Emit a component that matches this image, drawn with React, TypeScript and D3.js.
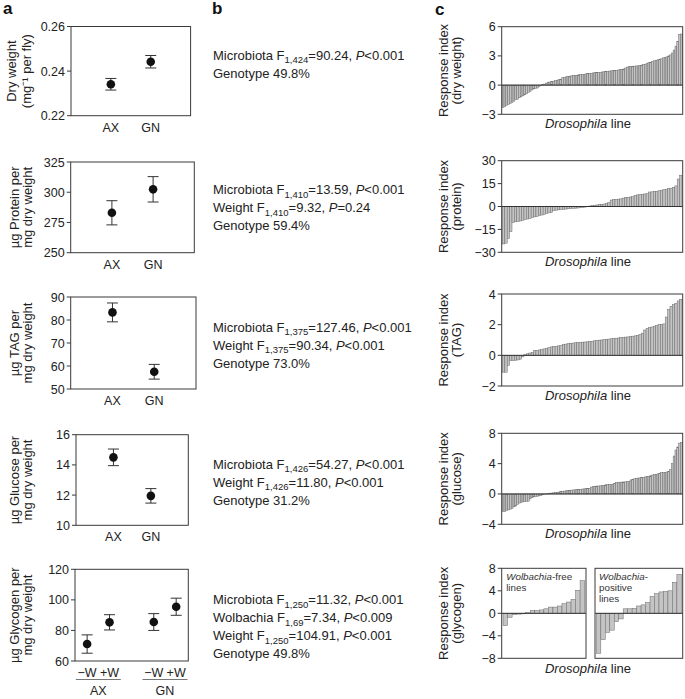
import React from "react";
import * as d3 from "d3";

const FONT = "'Liberation Sans', Arial, Helvetica, sans-serif";

// ---------- column a data ----------
const GENOTYPES = ["AX", "GN"];
const DRY_WEIGHT_MEAN = [0.2341, 0.2442];
const DRY_WEIGHT_SE = [0.0026, 0.0028];
const DRY_WEIGHT_TICKS = [0.22, 0.24, 0.26];
const PROTEIN_MEAN = [283, 302.4];
const PROTEIN_SE = [10, 10.5];
const PROTEIN_TICKS = [250, 275, 300, 325];
const TAG_MEAN = [83.3, 57.5];
const TAG_SE = [4.1, 3.2];
const TAG_TICKS = [50, 60, 70, 80, 90];
const GLUCOSE_MEAN = [14.5, 11.95];
const GLUCOSE_SE = [0.55, 0.48];
const GLUCOSE_TICKS = [10, 12, 14, 16];
const WOLBACHIA = ["−W", "+W"];
const GLYCOGEN_AX_MEAN = [71.1, 85.3];
const GLYCOGEN_AX_SE = [6, 5];
const GLYCOGEN_GN_MEAN = [85.5, 95.5];
const GLYCOGEN_GN_SE = [5.5, 5.6];
const GLYCOGEN_TICKS = [60, 80, 100, 120];

// ---------- column b text ----------
type StatLine = { name: string; df?: string; stat?: string; p?: string };
const STATS_DRY: StatLine[] = [
  { name: "Microbiota", df: "1,424", stat: "=90.24, ", p: "<0.001" },
  { name: "Genotype 49.8%" },
];
const STATS_PROTEIN: StatLine[] = [
  { name: "Microbiota", df: "1,410", stat: "=13.59, ", p: "<0.001" },
  { name: "Weight", df: "1,410", stat: "=9.32, ", p: "=0.24" },
  { name: "Genotype 59.4%" },
];
const STATS_TAG: StatLine[] = [
  { name: "Microbiota", df: "1,375", stat: "=127.46, ", p: "<0.001" },
  { name: "Weight", df: "1,375", stat: "=90.34, ", p: "<0.001" },
  { name: "Genotype 73.0%" },
];
const STATS_GLUCOSE: StatLine[] = [
  { name: "Microbiota", df: "1,426", stat: "=54.27, ", p: "<0.001" },
  { name: "Weight", df: "1,426", stat: "=11.80, ", p: "<0.001" },
  { name: "Genotype 31.2%" },
];
const STATS_GLYCOGEN: StatLine[] = [
  { name: "Microbiota", df: "1,250", stat: "=11.32, ", p: "<0.001" },
  { name: "Wolbachia", df: "1,69", stat: "=7.34, ", p: "<0.009" },
  { name: "Weight", df: "1,250", stat: "=104.91, ", p: "<0.001" },
  { name: "Genotype 49.8%" },
];

// ---------- column c data (response index per Drosophila line) ----------
const RI_DRY_WEIGHT = [
  -2.3, -2.2, -2.1, -2.0, -1.9, -1.8, -1.65, -1.5, -1.45, -1.3,
  -1.2, -1.1, -1.0, -0.9, -0.75, -0.65, -0.5, -0.4, -0.35, -0.3,
  -0.15, -0.05, 0.05, 0.1, 0.2, 0.3, 0.32, 0.35, 0.4, 0.45,
  0.5, 0.55, 0.6, 0.75, 0.8, 0.85, 0.88, 0.9, 0.95, 0.98,
  1.0, 1.02, 1.05, 1.08, 1.1, 1.12, 1.15, 1.18, 1.2, 1.22,
  1.25, 1.27, 1.28, 1.3, 1.32, 1.35, 1.37, 1.4, 1.42, 1.44,
  1.46, 1.48, 1.5, 1.52, 1.55, 1.58, 1.6, 1.65, 1.75, 1.85,
  1.9, 1.92, 1.93, 1.95, 1.97, 1.98, 2.0, 2.05, 2.1, 2.15,
  2.2, 2.3, 2.35, 2.4, 2.5, 2.55, 2.6, 2.65, 2.7, 2.8,
  2.85, 2.9, 3.0, 3.1, 3.3, 3.6, 4.0, 4.5, 5.2, 5.25,
];
const RI_PROTEIN = [
  -24.5, -24, -21, -16.5, -10.5, -10, -9.8, -9.5, -9, -8.5,
  -8.2, -7.8, -7.2, -6.8, -6.5, -6, -5.6, -5.2, -4.5, -4.2,
  -3.8, -2.6, -2.4, -2.2, -2.0, -1.9, -1.7, -1.5, -1.3, -1.2,
  -1.1, -1.0, -0.8, -0.6, -0.4, -0.1, 0.3, 0.6, 0.8, 1.0,
  1.2, 1.4, 1.6, 2.0, 2.6, 4.2, 4.5, 4.6, 4.8, 5.0,
  5.5, 5.8, 6.0, 6.2, 6.4, 7.3, 7.6, 7.8, 8.0, 8.2,
  8.5, 9.5, 9.6, 9.8, 10.0, 10.3, 10.6, 11.0, 11.2, 11.8,
  12.0, 12.5, 13.5, 18, 20.5,
];
const RI_TAG = [
  -1.1, -1.1, -0.65, -0.35, -0.35, -0.32, -0.3, -0.25, -0.1, 0.05,
  0.1, 0.15, 0.2, 0.3, 0.32, 0.35, 0.38, 0.42, 0.45, 0.5,
  0.55, 0.57, 0.58, 0.62, 0.65, 0.7, 0.73, 0.76, 0.78, 0.8,
  0.82, 0.83, 0.85, 0.86, 0.87, 0.88, 0.9, 0.92, 0.95, 0.97,
  0.99, 1.0, 1.02, 1.04, 1.06, 1.08, 1.1, 1.12, 1.13, 1.15,
  1.17, 1.19, 1.2, 1.22, 1.25, 1.27, 1.3, 1.35, 1.45, 1.65,
  1.75, 1.8, 1.85, 1.9, 1.95, 2.0, 2.02, 2.05, 2.5, 3.0,
  3.2, 3.3, 3.4, 3.55, 3.65,
];
const RI_GLUCOSE = [
  -2.3, -2.3, -2.2, -2.1, -2.0, -1.9, -1.7, -1.6, -1.4, -1.2,
  -1.1, -1.05, -1.0, -1.0, -0.95, -0.65, -0.5, -0.4, -0.35, -0.3,
  -0.25, -0.2, -0.12, -0.08, -0.03, 0.05, 0.1, 0.12, 0.15, 0.18,
  0.2, 0.25, 0.3, 0.35, 0.38, 0.42, 0.45, 0.46, 0.5, 0.53,
  0.55, 0.57, 0.6, 0.62, 0.65, 0.67, 0.7, 0.72, 0.75, 0.9,
  1.0, 1.02, 1.04, 1.05, 1.07, 1.1, 1.15, 1.2, 1.22, 1.25,
  1.28, 1.3, 1.4, 1.5, 1.52, 1.55, 1.57, 1.58, 1.6, 1.62,
  1.65, 1.85, 1.9, 2.0, 2.05, 2.1, 2.12, 2.15, 2.2, 2.25,
  2.3, 2.35, 2.4, 2.5, 2.55, 2.6, 2.65, 2.7, 2.8, 2.82,
  2.85, 2.9, 3.0, 3.2, 4.0, 5.0, 5.8, 6.2, 6.7, 6.8,
];
const RI_GLYCOGEN_WFREE = [
  -2.2, -0.7, -0.25, -0.15, -0.1, 0.1, 0.5, 0.5, 0.6, 0.8,
  1.1, 1.1, 1.3, 1.7, 2.0, 2.5, 4.1, 5.8,
];
const RI_GLYCOGEN_WPOS = [
  -7.1, -4.7, -3.4, -3.0, -1.5, -1.0, 0.8, 0.8, 0.9, 1.3,
  1.5, 1.9, 3.0, 3.5, 3.8, 3.9, 4.0, 5.5, 6.9,
];

// ---------- layout ----------
type Box = { x0: number; x1: number; y0: number; y1: number };
const AXIS_COLOR = "#3a3a3a";
const TEXT_COLOR = "#222";

function YAxis({ box, y, ticks, fmt }: any) {
  return (
    <g>
      {ticks.map((t: number) => (
        <g key={t}>
          <line x1={box.x0 - 4} x2={box.x0} y1={y(t)} y2={y(t)} stroke={AXIS_COLOR} strokeWidth={1} />
          <text x={box.x0 - 6} y={y(t)} dy="0.36em" textAnchor="end" fontSize={12.5} fill={TEXT_COLOR}>
            {fmt(t)}
          </text>
        </g>
      ))}
    </g>
  );
}

function YTitle({ lines, xs, cy }: { lines: string[]; xs: number[]; cy: number }) {
  return (
    <g>
      {lines.map((l, i) => (
        <text
          key={i}
          transform={`translate(${xs[i]},${cy}) rotate(-90)`}
          textAnchor="middle"
          dominantBaseline="central"
          fontSize={13}
          fill={TEXT_COLOR}
        >
          {l}
        </text>
      ))}
    </g>
  );
}

function Frame({ box }: { box: Box }) {
  return (
    <rect x={box.x0} y={box.y0} width={box.x1 - box.x0} height={box.y1 - box.y0} fill="none" stroke={AXIS_COLOR} strokeWidth={1} />
  );
}

function PointMark({ cx, y, mean, se }: any) {
  const cap = 5.5;
  return (
    <g>
      <line x1={cx} x2={cx} y1={y(mean - se)} y2={y(mean + se)} stroke="#333" strokeWidth={1} />
      <line x1={cx - cap} x2={cx + cap} y1={y(mean - se)} y2={y(mean - se)} stroke="#333" strokeWidth={1} />
      <line x1={cx - cap} x2={cx + cap} y1={y(mean + se)} y2={y(mean + se)} stroke="#333" strokeWidth={1} />
      <circle cx={cx} cy={y(mean)} r={4.3} fill="#111" />
    </g>
  );
}

function PointPanel({ box, ticks, fmt, means, ses, title, titleX }: any) {
  const y = d3.scaleLinear().domain([ticks[0], ticks[ticks.length - 1]]).range([box.y1, box.y0]);
  const x = d3.scalePoint<string>().domain(GENOTYPES).range([box.x0, box.x1]).padding(1);
  return (
    <g>
      <Frame box={box} />
      <YAxis box={box} y={y} ticks={ticks} fmt={fmt} />
      {GENOTYPES.map((g, i) => (
        <g key={g}>
          <PointMark cx={x(g)} y={y} mean={means[i]} se={ses[i]} />
          <text x={x(g)} y={box.y1 + 16} textAnchor="middle" fontSize={12.5} fill={TEXT_COLOR}>{g}</text>
        </g>
      ))}
      <YTitle lines={title} xs={titleX} cy={(box.y0 + box.y1) / 2} />
    </g>
  );
}

function GlycogenPointPanel({ box }: { box: Box }) {
  const y = d3.scaleLinear().domain([GLYCOGEN_TICKS[0], GLYCOGEN_TICKS[GLYCOGEN_TICKS.length - 1]]).range([box.y1, box.y0]);
  const gx = d3.scalePoint<string>().domain(GENOTYPES).range([box.x0, box.x1]).padding(0.35);
  const wx = d3.scalePoint<string>().domain(WOLBACHIA).range([-11.2, 11.2]);
  const means = [GLYCOGEN_AX_MEAN, GLYCOGEN_GN_MEAN];
  const ses = [GLYCOGEN_AX_SE, GLYCOGEN_GN_SE];
  return (
    <g>
      <Frame box={box} />
      <YAxis box={box} y={y} ticks={GLYCOGEN_TICKS} fmt={d3.format("d")} />
      {GENOTYPES.map((g, gi) => {
        const c = gx(g) as number;
        return (
          <g key={g}>
            {WOLBACHIA.map((w, wi) => (
              <g key={w}>
                <PointMark cx={c + (wx(w) as number)} y={y} mean={means[gi][wi]} se={ses[gi][wi]} />
                <text x={c + (wx(w) as number)} y={box.y1 + 15.5} textAnchor="middle" fontSize={12.5} fill={TEXT_COLOR}>{w}</text>
              </g>
            ))}
            <line x1={c - 22.5} x2={c + 22.5} y1={box.y1 + 18.5} y2={box.y1 + 18.5} stroke="#777" strokeWidth={1.2} />
            <text x={c} y={box.y1 + 34} textAnchor="middle" fontSize={12.5} fill={TEXT_COLOR}>{g}</text>
          </g>
        );
      })}
      <YTitle lines={["µg Glycogen per", "mg dry weight"]} xs={[14, 27.5]} cy={(box.y0 + box.y1) / 2} />
    </g>
  );
}

function StatsBlock({ lines, x, y0 }: { lines: StatLine[]; x: number; y0: number }) {
  return (
    <g>
      {lines.map((l, i) => (
        <text key={i} x={x} y={y0 + i * 18} fontSize={13} fill={TEXT_COLOR}>
          {l.name}
          {l.df ? (
            <>
              {" F"}
              <tspan dy={3.5} fontSize={9.5}>{l.df}</tspan>
              <tspan dy={-3.5}>{l.stat}</tspan>
              <tspan fontStyle="italic">P</tspan>
              <tspan>{l.p}</tspan>
            </>
          ) : null}
        </text>
      ))}
    </g>
  );
}

function Bars({ box, y, values }: { box: Box; y: any; values: number[] }) {
  const x = d3.scaleBand<number>().domain(d3.range(values.length)).range([box.x0, box.x1]).paddingInner(0).paddingOuter(0.3);
  return (
    <g>
      {values.map((v, i) => (
        <rect
          key={i}
          x={x(i)}
          width={x.bandwidth()}
          y={Math.min(y(v), y(0))}
          height={Math.abs(y(v) - y(0))}
          fill="#c4c4c4"
          stroke="#6a6a6a"
          strokeWidth={0.5}
        />
      ))}
      <line x1={box.x0} x2={box.x1} y1={y(0)} y2={y(0)} stroke="#333" strokeWidth={1} />
    </g>
  );
}

function BarPanel({ box, ticks, values, title }: any) {
  const y = d3.scaleLinear().domain([ticks[ticks.length - 1], ticks[0]]).range([box.y1, box.y0]);
  return (
    <g>
      <Bars box={box} y={y} values={values} />
      <Frame box={box} />
      <YAxis box={box} y={y} ticks={ticks} fmt={d3.format("d")} />
      <YTitle lines={title} xs={[443, 456]} cy={(box.y0 + box.y1) / 2} />
      <text x={588} y={box.y1 + 14} textAnchor="middle" fontSize={13} fill={TEXT_COLOR}>
        <tspan fontStyle="italic">Drosophila</tspan> line
      </text>
    </g>
  );
}

function GlycogenBarPanel({ left, right }: { left: Box; right: Box }) {
  const ticks = [8, 4, 0, -4, -8];
  const y = d3.scaleLinear().domain([-8, 8]).range([left.y1, left.y0]);
  return (
    <g>
      <Bars box={left} y={y} values={RI_GLYCOGEN_WFREE} />
      <Bars box={right} y={y} values={RI_GLYCOGEN_WPOS} />
      <Frame box={left} />
      <Frame box={right} />
      <YAxis box={left} y={y} ticks={ticks} fmt={d3.format("d")} />
      <text x={left.x0 + 4.5} y={left.y0 + 12} fontSize={9.8} fill="#333">
        <tspan fontStyle="italic">Wolbachia</tspan>-free
      </text>
      <text x={left.x0 + 4.5} y={left.y0 + 23} fontSize={9.8} fill="#333">lines</text>
      <text x={right.x0 + 4} y={right.y0 + 12} fontSize={9.8} fill="#333">
        <tspan fontStyle="italic">Wolbachia</tspan>-
      </text>
      <text x={right.x0 + 4} y={right.y0 + 23} fontSize={9.8} fill="#333">positive</text>
      <text x={right.x0 + 4} y={right.y0 + 34} fontSize={9.8} fill="#333">lines</text>
      <YTitle lines={["Response index", "(glycogen)"]} xs={[443, 456]} cy={(left.y0 + left.y1) / 2} />
      <text x={588} y={left.y1 + 15} textAnchor="middle" fontSize={13} fill={TEXT_COLOR}>
        <tspan fontStyle="italic">Drosophila</tspan> line
      </text>
    </g>
  );
}

export default function App() {
  const f2 = d3.format(".2f");
  const fi = d3.format("d");
  return (
    <svg
      width={685}
      height={699}
      style={{ position: "absolute", left: 0, top: 0, background: "#fff" }}
      fontFamily={FONT}
    >
      <rect x={0} y={0} width={685} height={699} fill="#fff" />
      <text x={3} y={14} fontSize={17} fontWeight="bold" fill="#111">a</text>
      <text x={212} y={14} fontSize={17} fontWeight="bold" fill="#111">b</text>
      <text x={435} y={15} fontSize={17} fontWeight="bold" fill="#111">c</text>

      <PointPanel box={{ x0: 71, x1: 190.6, y0: 26.5, y1: 115.7 }} ticks={DRY_WEIGHT_TICKS} fmt={f2}
        means={DRY_WEIGHT_MEAN} ses={DRY_WEIGHT_SE} title={["Dry weight", "(mg⁻¹ per fly)"]} titleX={[11, 26]} />
      <PointPanel box={{ x0: 70.7, x1: 194.3, y0: 162, y1: 252.7 }} ticks={PROTEIN_TICKS} fmt={fi}
        means={PROTEIN_MEAN} ses={PROTEIN_SE} title={["µg Protein per", "mg dry weight"]} titleX={[14, 27.5]} />
      <PointPanel box={{ x0: 70.7, x1: 196, y0: 297, y1: 389 }} ticks={TAG_TICKS} fmt={fi}
        means={TAG_MEAN} ses={TAG_SE} title={["µg TAG per", "mg dry weight"]} titleX={[14, 27.5]} />
      <PointPanel box={{ x0: 76, x1: 188.3, y0: 434.7, y1: 525.3 }} ticks={GLUCOSE_TICKS} fmt={fi}
        means={GLUCOSE_MEAN} ses={GLUCOSE_SE} title={["µg Glucose per", "mg dry weight"]} titleX={[14, 27.5]} />
      <GlycogenPointPanel box={{ x0: 75, x1: 188.3, y0: 569.3, y1: 661 }} />

      <StatsBlock lines={STATS_DRY} x={213} y0={59.5} />
      <StatsBlock lines={STATS_PROTEIN} x={213} y0={194} />
      <StatsBlock lines={STATS_TAG} x={213} y0={331.5} />
      <StatsBlock lines={STATS_GLUCOSE} x={213} y0={468.5} />
      <StatsBlock lines={STATS_GLYCOGEN} x={213} y0={604} />

      <BarPanel box={{ x0: 501.7, x1: 682.7, y0: 26.7, y1: 114.3 }} ticks={[6, 3, 0, -3]} values={RI_DRY_WEIGHT}
        title={["Response index", "(dry weight)"]} />
      <BarPanel box={{ x0: 501.7, x1: 682.7, y0: 160.7, y1: 252.3 }} ticks={[30, 15, 0, -15, -30]} values={RI_PROTEIN}
        title={["Response index", "(protein)"]} />
      <BarPanel box={{ x0: 501.7, x1: 682.7, y0: 294, y1: 386 }} ticks={[4, 2, 0, -2]} values={RI_TAG}
        title={["Response index", "(TAG)"]} />
      <BarPanel box={{ x0: 501.7, x1: 682.7, y0: 433.3, y1: 524.3 }} ticks={[8, 4, 0, -4]} values={RI_GLUCOSE}
        title={["Response index", "(glucose)"]} />
      <GlycogenBarPanel
        left={{ x0: 501.7, x1: 586, y0: 568.3, y1: 658.3 }}
        right={{ x0: 595, x1: 682.7, y0: 568.3, y1: 658.3 }}
      />
    </svg>
  );
}
